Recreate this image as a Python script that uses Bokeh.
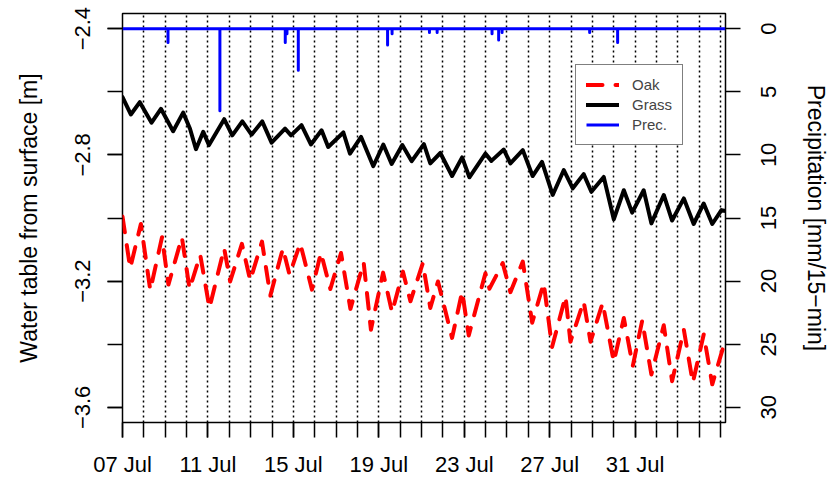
import math
from datetime import datetime
from bokeh.plotting import figure
from bokeh.models import (Range1d, LinearAxis, FixedTicker, DatetimeTickFormatter,
                          Legend, LegendItem)
from bokeh.embed import file_html
from bokeh.resources import INLINE

# ---------------- data ----------------
start_date = datetime(2013, 7, 7)
record_days = 28.23          # length of the record in days after 07 Jul 00:00

# water table below surface [m], time in days after 07 Jul 00:00
grass_day = [0.00, 0.39, 0.81, 1.36, 1.80, 2.37, 2.84, 3.16, 3.44, 3.78, 4.05, 4.76,
             5.14, 5.61, 6.04, 6.54, 6.98, 7.61, 7.89, 8.38, 8.82, 9.32, 9.63, 10.34,
             10.65, 11.17, 11.74, 12.21, 12.60, 13.10, 13.54, 14.11, 14.41, 14.88, 15.43,
             15.90, 16.24, 16.99, 17.27, 17.85, 18.16, 18.74, 19.20, 19.64, 20.14, 20.66,
             21.08, 21.59, 21.95, 22.53, 23.00, 23.47, 23.86, 24.40, 24.76, 25.34, 25.73,
             26.28, 26.74, 27.21, 27.61, 28.04, 28.23]
grass_wt = [-2.617, -2.672, -2.633, -2.698, -2.654, -2.725, -2.666, -2.717, -2.782, -2.727,
            -2.769, -2.687, -2.738, -2.694, -2.736, -2.694, -2.761, -2.717, -2.738, -2.706,
            -2.767, -2.722, -2.775, -2.729, -2.796, -2.743, -2.836, -2.767, -2.829, -2.769,
            -2.820, -2.766, -2.827, -2.794, -2.867, -2.808, -2.871, -2.796, -2.819, -2.783,
            -2.827, -2.785, -2.867, -2.822, -2.927, -2.848, -2.906, -2.861, -2.917, -2.870,
            -3.004, -2.912, -2.983, -2.912, -3.017, -2.927, -3.008, -2.938, -3.019, -2.954,
            -3.019, -2.975, -2.978]

oak_day = [0.00, 0.36, 0.86, 1.30, 1.85, 2.15, 2.78, 3.14, 3.64, 4.07, 4.76, 5.04, 5.59,
           5.98, 6.53, 6.92, 7.51, 7.82, 8.32, 8.87, 9.29, 9.73, 10.23, 10.67, 11.29, 11.63,
           12.20, 12.62, 13.13, 13.48, 14.06, 14.41, 14.77, 15.43, 15.90, 16.21, 16.99,
           17.18, 17.80, 18.16, 18.74, 19.18, 19.72, 20.11, 20.74, 20.97, 21.59, 21.91,
           22.48, 23.00, 23.47, 23.89, 24.33, 24.76, 25.34, 25.73, 26.28, 26.70, 27.21,
           27.61, 28.23]
oak_wt = [-2.995, -3.159, -3.019, -3.229, -3.061, -3.211, -3.061, -3.225, -3.117, -3.285,
          -3.096, -3.201, -3.082, -3.198, -3.075, -3.246, -3.096, -3.180, -3.080, -3.227,
          -3.110, -3.225, -3.111, -3.288, -3.141, -3.354, -3.173, -3.299, -3.170, -3.264,
          -3.143, -3.285, -3.201, -3.380, -3.233, -3.372, -3.175, -3.224, -3.143, -3.235,
          -3.138, -3.332, -3.206, -3.409, -3.248, -3.392, -3.264, -3.392, -3.269, -3.456,
          -3.317, -3.469, -3.325, -3.496, -3.340, -3.517, -3.354, -3.522, -3.369, -3.527,
          -3.385]

# precipitation events [mm / 15 min]
prec_day = [2.13, 4.56, 7.62, 7.70, 8.23, 12.41, 12.62, 14.37, 14.73, 17.30, 17.61,
            17.77, 21.87, 23.18]
prec_mm = [1.1, 6.5, 1.1, 0.4, 3.3, 1.3, 0.4, 0.3, 0.3, 0.4, 0.9, 0.3, 0.3, 1.1]

wt_ticks = [-3.6, -3.2, -2.8, -2.4]
wt_minor = [-3.6, -3.4, -3.2, -3.0, -2.8, -2.6, -2.4]
prec_ticks = [0, 5, 10, 15, 20, 25, 30]
label_every = 4
prec_title = "Precipitation [mm/15\u2212min]"

# ---------------- helpers ----------------
DAY_MS = 86400000.0
start_ms = (start_date - datetime(1970, 1, 1)).total_seconds() * 1000.0


def to_ms(days):
    return [start_ms + d * DAY_MS for d in days]


# precipitation as a 15-min series: zero baseline with spikes
px, py = [0.0], [0.0]
for d, v in zip(prec_day, prec_mm):
    px += [d, d, d]
    py += [0.0, v, 0.0]
px.append(record_days)
py.append(0.0)

# R-like 4% padding of the axis limits
wt_lo, wt_hi = min(wt_ticks), max(wt_ticks)
pad = 0.04 * (wt_hi - wt_lo)
# precipitation axis is tied to the water-table axis: 0 mm at -2.4 m, 30 mm at -3.6 m
scale = (wt_hi - wt_lo) / (max(prec_ticks) - min(prec_ticks))
prec_top = -pad / scale
prec_bottom = max(prec_ticks) + pad / scale

FONT = "Liberation Sans"
TICK_PX = 22
TITLE_PX = 23
FRAME_H = 409

p = figure(width=833, height=479, x_axis_type="datetime",
           x_range=Range1d(start_ms, start_ms + record_days * DAY_MS),
           y_range=Range1d(wt_lo - pad, wt_hi + pad),
           output_backend="svg", toolbar_location=None,
           min_border_left=122, min_border_right=108, min_border_top=13,
           min_border_bottom=479 - 13 - FRAME_H)
p.extra_y_ranges = {"prec": Range1d(start=prec_bottom, end=prec_top)}
p.background_fill_color = "white"
p.border_fill_color = "white"
p.outline_line_color = "black"
p.outline_line_width = 1.5

# daily dotted lines
p.ygrid.visible = False
p.xgrid.ticker = FixedTicker(ticks=to_ms(range(1, int(record_days) + 1)))
p.xgrid.grid_line_color = "black"
p.xgrid.grid_line_dash = "2 3"
p.xgrid.grid_line_width = 1.5

oak = p.line(to_ms(oak_day), oak_wt, line_color="#FF0000", line_width=4,
             line_dash="16 13", line_cap="round", line_join="round")
grass = p.line(to_ms(grass_day), grass_wt, line_color="black", line_width=4,
               line_join="round", line_cap="round")
prec = p.line(to_ms(px), py, y_range_name="prec", line_color="#0000FF", line_width=3,
              line_join="round")


def style(ax):
    ax.axis_line_color = None
    ax.major_tick_line_color = "black"
    ax.major_tick_line_width = 1.5
    ax.major_tick_in = 0
    ax.major_tick_out = 15
    ax.minor_tick_line_color = "black"
    ax.minor_tick_line_width = 1.5
    ax.minor_tick_in = 0
    ax.minor_tick_out = 15
    ax.major_label_text_font = FONT
    ax.major_label_text_font_size = f"{TICK_PX}px"
    ax.major_label_text_color = "black"
    ax.axis_label_text_font = FONT
    ax.axis_label_text_font_size = f"{TITLE_PX}px"
    ax.axis_label_text_font_style = "normal"
    ax.axis_label_text_color = "black"


# bottom axis
xa = p.xaxis[0]
style(xa)
xa.ticker = FixedTicker(ticks=to_ms(range(0, int(record_days), label_every)),
                        minor_ticks=to_ms(range(0, int(record_days) + 1)))
xa.formatter = DatetimeTickFormatter(days="%d %b", months="%d %b", hours="%d %b")
xa.major_label_standoff = 14

# left axis
ya = p.yaxis[0]
style(ya)
ya.ticker = FixedTicker(ticks=wt_ticks, minor_ticks=wt_minor)
ya.major_label_overrides = {t: ("\u2212%.1f" % abs(t)) for t in wt_ticks}
ya.major_label_orientation = "vertical"
ya.major_label_standoff = 17
ya.axis_label = "Water table from surface [m]"
ya.axis_label_standoff = 31

# right axis: labels read bottom-to-top (as in the reference); Bokeh left-aligns
# rotated labels on this side, so each label is anchored half its width lower
# and the visible tick marks are drawn as minor ticks at the true values.
px_per_mm = FRAME_H / (prec_bottom - prec_top)
digit_w = 0.556 * TICK_PX
label_pos = [t + len(str(t)) * digit_w / 2 / px_per_mm for t in prec_ticks]
ra = LinearAxis(y_range_name="prec",
                ticker=FixedTicker(ticks=label_pos, minor_ticks=prec_ticks),
                axis_label=prec_title)
style(ra)
ra.major_tick_out = 0
ra.major_tick_line_color = None
ra.major_label_overrides = {lp: str(t) for lp, t in zip(label_pos, prec_ticks)}
ra.major_label_orientation = math.pi / 2
ra.major_label_standoff = 28
ra.axis_label_standoff = 16
p.add_layout(ra, "right")

legend = Legend(items=[LegendItem(label="Oak", renderers=[oak]),
                       LegendItem(label="Grass", renderers=[grass]),
                       LegendItem(label="Prec.", renderers=[prec])],
                location=(453, 277))
legend.label_text_font = FONT
legend.label_text_font_size = "15px"
legend.glyph_width = 33
legend.glyph_height = 19
legend.label_height = 19
legend.label_standoff = 13
legend.padding = 10
legend.spacing = 1
legend.margin = 0
legend.border_line_color = "black"
legend.border_line_width = 1.5
legend.background_fill_color = "white"
legend.background_fill_alpha = 1.0
p.add_layout(legend)

open("out.html", "w").write(file_html(p, INLINE))
